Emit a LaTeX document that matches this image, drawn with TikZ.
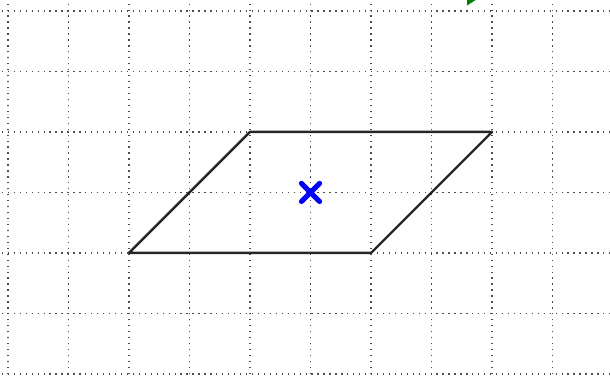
\documentclass[tikz,border=0pt]{standalone}
\usetikzlibrary{calc}
\begin{document}
\begin{tikzpicture}[x=1cm,y=1cm,
  gridline/.style={line width=0.6pt, black!70, dash pattern=on 0.6pt off 2.2pt},
  outline/.style={line width=1.1pt, black!85, line join=round},
  crossmark/.style={line width=2.4pt, blue, line cap=round}]
\useasboundingbox (-0.132,-0.02) rectangle (9.95,6.18);
\clip (-0.132,-0.02) rectangle (9.95,6.18);
\foreach \x in {0,...,9} \draw[gridline] (\x,-0.1) -- (\x,6.2);
\foreach \y in {0,...,6} \draw[gridline] (-0.2,\y) -- (10,\y);
\coordinate (A) at (2,2);
\coordinate (B) at (6,2);
\coordinate (C) at (8,4);
\coordinate (D) at (4,4);
\coordinate (M) at (5,3);
\draw[outline] (A) -- (B) -- (C) -- (D) -- cycle;
\draw[crossmark] ($(M)+(-0.15,-0.15)$) -- ($(M)+(0.15,0.15)$);
\draw[crossmark] ($(M)+(-0.15,0.15)$) -- ($(M)+(0.15,-0.15)$);
\fill[green!50!black] (7.59,6.18) -- (7.73,6.18) -- (7.59,6.09) -- cycle;
\end{tikzpicture}
\end{document}
